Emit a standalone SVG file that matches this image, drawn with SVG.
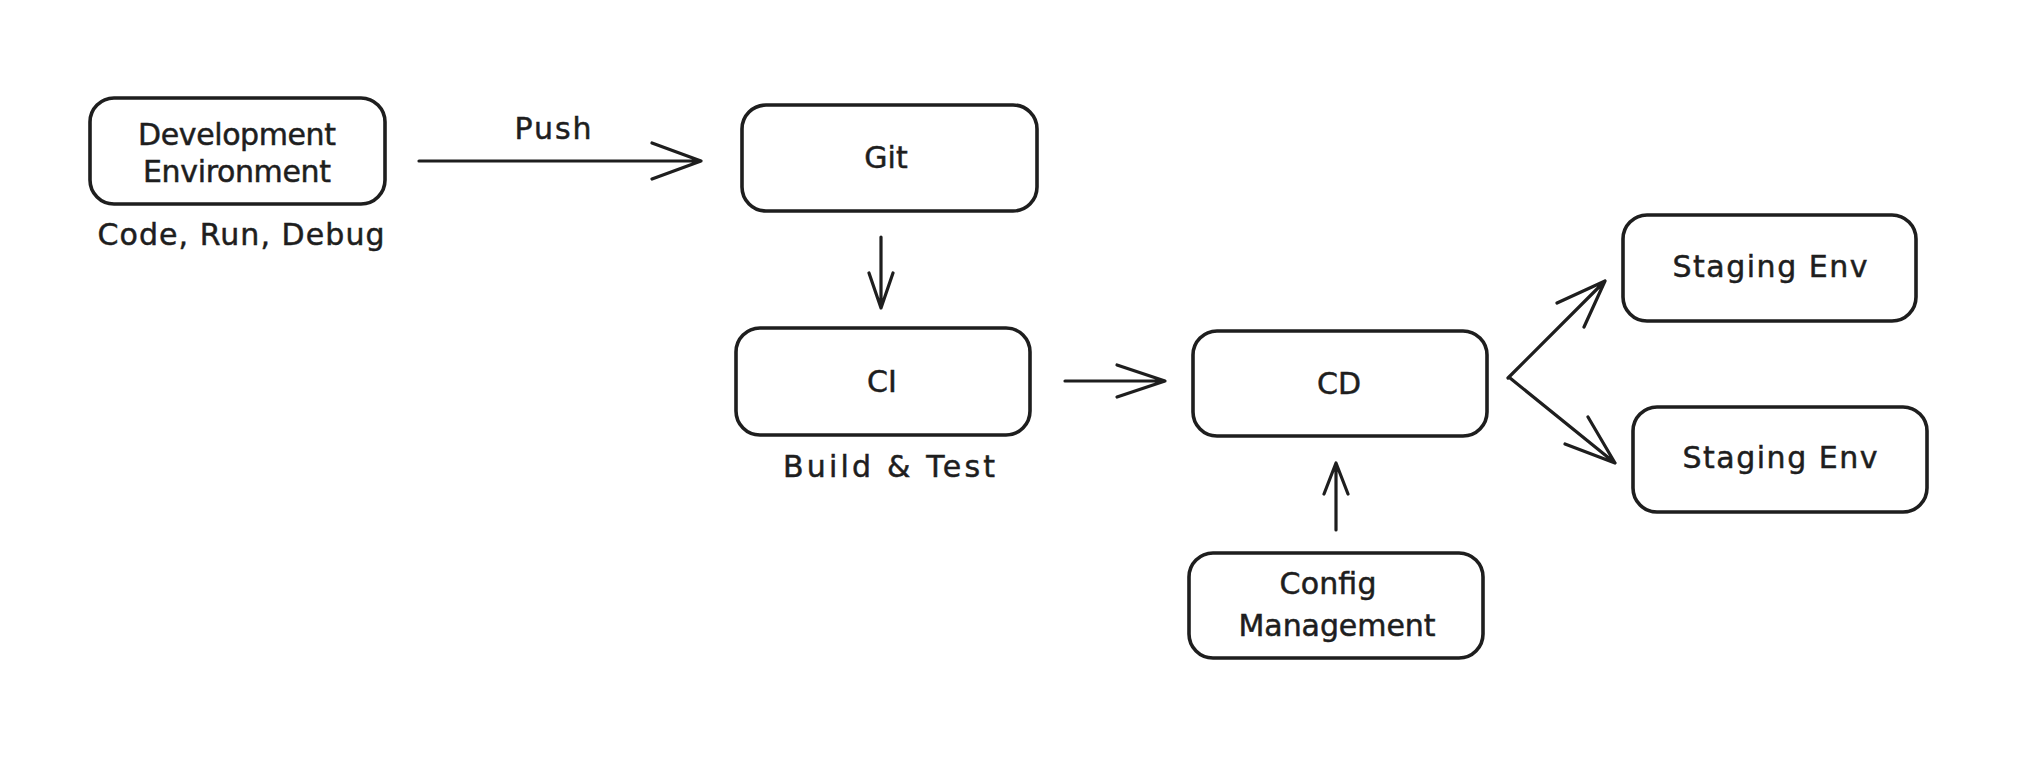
<svg xmlns="http://www.w3.org/2000/svg" width="2030" height="776" viewBox="0 0 2030 776">
  <style>
    .box { fill: #ffffff; stroke: #1e1e1e; stroke-width: 3.6; }
    .lbl { font-family: "DejaVu Sans", "Liberation Sans", sans-serif; font-size: 30px; fill: #1e1e1e; stroke: #1e1e1e; stroke-width: 0.5; text-anchor: middle; }
    .edge { fill: none; stroke: #1e1e1e; stroke-width: 3.2; stroke-linecap: round; stroke-linejoin: round; }
  </style>
  <rect x="0" y="0" width="2030" height="776" fill="#ffffff"/>

  <g id="connectors">
    <g id="edge-dev-git">
      <path class="edge" d="M419 161 L701 161 M652 143 L701 161 L652 179"/>
      <text class="lbl" x="553" y="139" textLength="77">Push</text>
    </g>
    <path id="edge-git-ci" class="edge" d="M881 237 L881 308 M869 273 L881 308 L893 273"/>
    <path id="edge-ci-cd" class="edge" d="M1065 381 L1165 381 M1117 365 L1165 381 L1117 397"/>
    <path id="edge-config-cd" class="edge" d="M1336 530 L1336 463 M1324 494 L1336 463 L1348 494"/>
    <path id="edge-cd-stg1" class="edge" d="M1508 378 L1605 281 M1557 303 L1605 281 L1584 327"/>
    <path id="edge-cd-stg2" class="edge" d="M1510 378 L1615 463 M1565 444 L1615 463 L1588 417"/>
  </g>

  <g id="node-dev">
    <rect class="box" x="90" y="98" width="295" height="106" rx="24"/>
    <text class="lbl" x="237" y="145" textLength="198">Development</text>
    <text class="lbl" x="237" y="182" textLength="188">Environment</text>
    <text class="lbl" x="241" y="245" textLength="287">Code, Run, Debug</text>
  </g>

  <g id="node-git">
    <rect class="box" x="742" y="105" width="295" height="106" rx="24"/>
    <text class="lbl" x="886" y="168">Git</text>
  </g>

  <g id="node-ci">
    <rect class="box" x="736" y="328" width="294" height="107" rx="24"/>
    <text class="lbl" x="882" y="392">CI</text>
    <text class="lbl" x="889" y="477" textLength="212">Build &amp; Test</text>
  </g>

  <g id="node-cd">
    <rect class="box" x="1193" y="331" width="294" height="105" rx="24"/>
    <text class="lbl" x="1339" y="394">CD</text>
  </g>

  <g id="node-config">
    <rect class="box" x="1189" y="553" width="294" height="105" rx="24"/>
    <text class="lbl" x="1328" y="594" textLength="97">Config</text>
    <text class="lbl" x="1337" y="636" textLength="197">Management</text>
  </g>

  <g id="node-staging-1">
    <rect class="box" x="1623" y="215" width="293" height="106" rx="24"/>
    <text class="lbl" x="1770" y="277" textLength="195">Staging Env</text>
  </g>

  <g id="node-staging-2">
    <rect class="box" x="1633" y="407" width="294" height="105" rx="24"/>
    <text class="lbl" x="1780" y="468" textLength="195">Staging Env</text>
  </g>
</svg>
